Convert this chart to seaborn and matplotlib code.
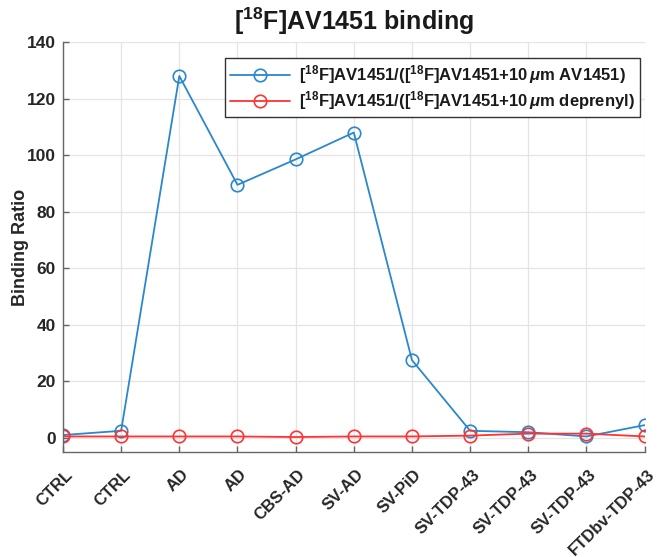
import numpy as np
import pandas as pd
import seaborn as sns
import matplotlib.pyplot as plt
import matplotlib.transforms as mtransforms

# values
groups = ["CTRL", "CTRL", "AD", "AD", "CBS-AD", "SV-AD", "SV-PiD",
          "SV-TDP-43", "SV-TDP-43", "SV-TDP-43", "FTDbv-TDP-43"]
ratio_av1451 = [1.0, 2.5, 128.0, 89.5, 98.5, 108.0, 27.5, 2.5, 2.0, 0.5, 4.5]
ratio_deprenyl = [0.5, 0.5, 0.5, 0.5, 0.3, 0.5, 0.5, 0.8, 1.5, 1.5, 0.5]

sns.set_theme(style="white")
plt.rcParams["font.family"] = ["Liberation Sans", "DejaVu Sans"]
plt.rcParams["font.weight"] = "bold"
plt.rcParams["mathtext.fontset"] = "custom"
plt.rcParams["mathtext.rm"] = "Liberation Sans:bold"
plt.rcParams["mathtext.it"] = "Liberation Sans:italic:bold"
plt.rcParams["mathtext.bf"] = "Liberation Sans:bold"

pos = np.arange(len(groups))

fig = plt.figure(figsize=(6.58, 5.57), dpi=100)
ax = fig.add_axes([0.0957, 0.1885, 0.884, 0.736])

blue = "#2b87cb"
red = "#ff3333"
lbl1 = r"[$^{\mathrm{18}}$F]AV1451/([$^{\mathrm{18}}$F]AV1451+10$\,\mu$m AV1451)"
lbl2 = r"[$^{\mathrm{18}}$F]AV1451/([$^{\mathrm{18}}$F]AV1451+10$\,\mu$m deprenyl)"

sns.lineplot(x=pos, y=ratio_av1451, ax=ax, color=blue, lw=1.3, marker="o",
             markersize=9, markerfacecolor="none", markeredgecolor=blue,
             markeredgewidth=1.2, label=lbl1)
sns.lineplot(x=pos, y=ratio_deprenyl, ax=ax, color=red, lw=1.3, marker="o",
             markersize=9, markerfacecolor="none", markeredgecolor=red,
             markeredgewidth=1.2, label=lbl2)

ax.set_xlim(0, 10)
ax.set_ylim(-5, 140)
ax.set_yticks(np.arange(0, 141, 20))
ax.set_xticks(pos)

ax.grid(True, color="#e4e4e4", lw=0.9)
ax.set_axisbelow(True)
for s in ["top", "right"]:
    ax.spines[s].set_visible(False)
for s in ["left", "bottom"]:
    ax.spines[s].set_color("#666666")
    ax.spines[s].set_linewidth(1.0)
ax.tick_params(axis="both", direction="in", length=4, color="#666666",
               width=1.0, left=True, bottom=True, pad=5)

ax.set_xticklabels(groups, rotation=45, ha="right", rotation_mode="anchor",
                   fontsize=12, fontweight="bold", color="#262626")
# push the rotated labels down a little, like the original
shift = mtransforms.ScaledTranslation(0.02, -0.08, fig.dpi_scale_trans)
for t in ax.get_xticklabels():
    t.set_transform(t.get_transform() + shift)
for t in ax.get_yticklabels():
    t.set_fontsize(12.5)
    t.set_fontweight("bold")
    t.set_color("#262626")

ax.set_ylabel("Binding Ratio", fontsize=13, fontweight="bold", color="#262626")
ax.yaxis.set_label_coords(-0.058, 0.5)
ax.set_title(r"[$^{\mathrm{18}}$F]AV1451 binding", fontsize=18,
             fontweight="bold", color="#1a1a1a", pad=9)

leg = ax.legend(loc="upper right", bbox_to_anchor=(0.9914, 0.961),
                fontsize=12, frameon=True, fancybox=False,
                edgecolor="#333333", framealpha=1, borderaxespad=0,
                handlelength=3.6, handletextpad=0.5, borderpad=0.3,
                labelspacing=0.2)
leg.get_frame().set_linewidth(1.0)
for t in leg.get_texts():
    t.set_fontweight("bold")
    t.set_color("#1a1a1a")

fig.savefig("out.png", dpi=100)
